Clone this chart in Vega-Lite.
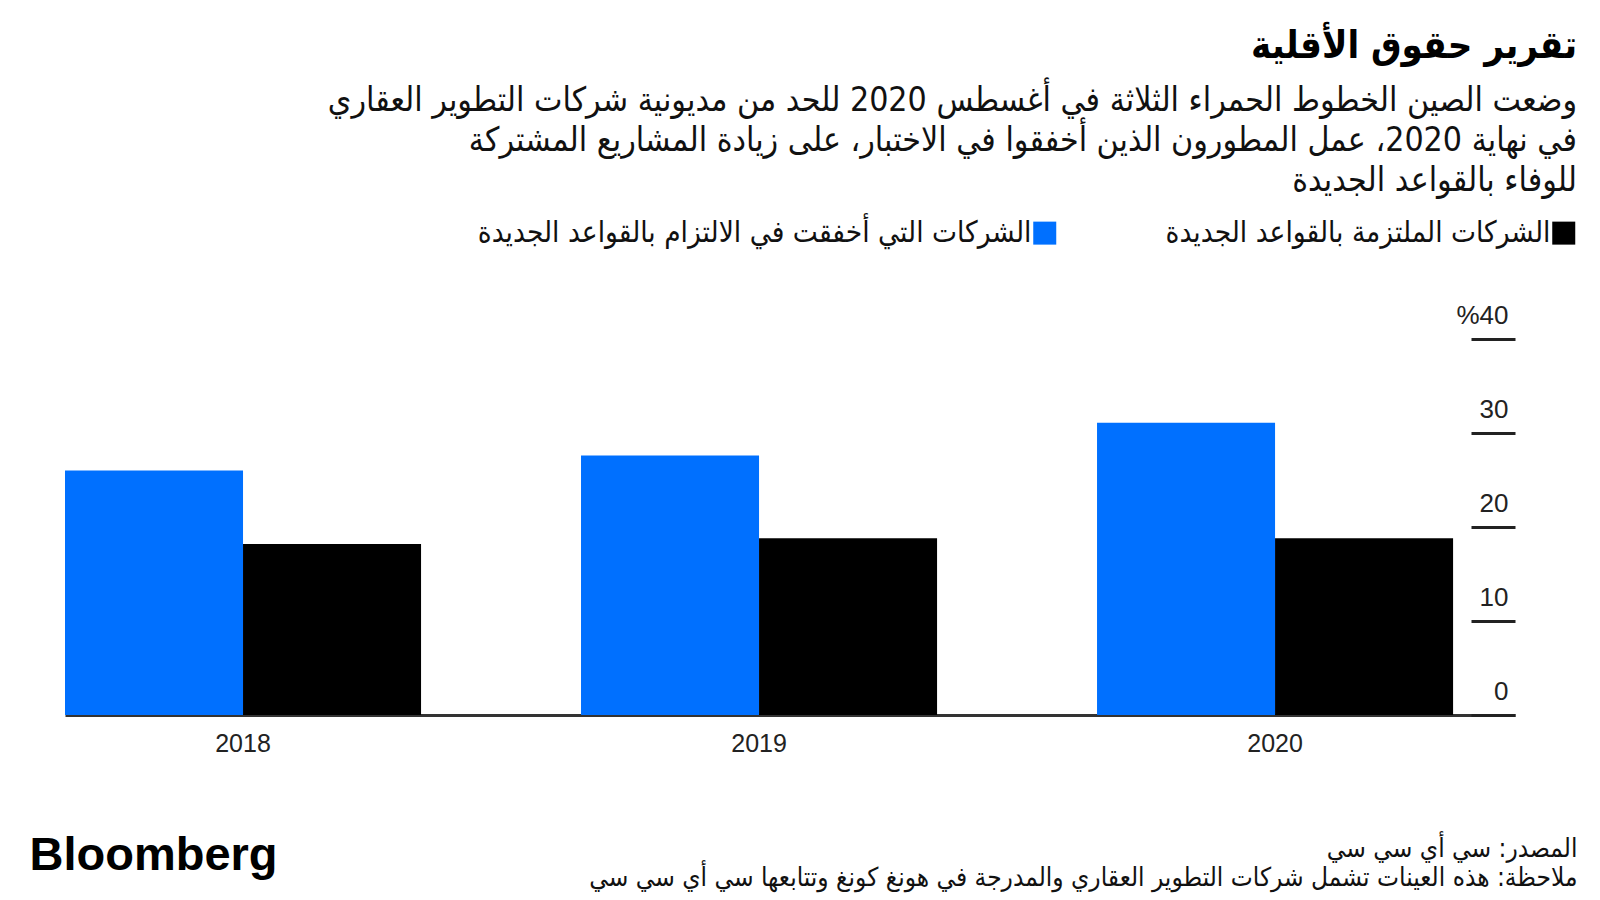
{
  "$schema": "https://vega.github.io/schema/vega-lite/v6.json",
  "autosize": {"type": "none"},
  "width": 1450,
  "height": 376,
  "padding": {"left": 65, "top": 339, "right": 85, "bottom": 185},
  "background": "white",
  "config": {"view": {"stroke": null}, "font": "DejaVu Sans Condensed"},
  "title": {
    "text": "تقرير حقوق الأقلية",
    "subtitle": [
      "وضعت الصين الخطوط الحمراء الثلاثة في أغسطس 2020 للحد من مديونية شركات التطوير العقاري",
      "في نهاية 2020، عمل المطورون الذين أخفقوا في الاختبار، على زيادة المشاريع المشتركة",
      "للوفاء بالقواعد الجديدة"
    ],
    "anchor": "end",
    "frame": "group",
    "align": "right",
    "dx": 62,
    "offset": 20,
    "font": "DejaVu Sans Condensed",
    "fontSize": 38,
    "fontWeight": "bold",
    "color": "#000000",
    "subtitleFont": "DejaVu Sans Condensed",
    "subtitleFontSize": 33.6,
    "subtitleColor": "#111111",
    "subtitleLineHeight": 40,
    "subtitlePadding": 18
  },
  "data": {
    "values": [
      {"year": "2018", "group": "الشركات التي أخفقت في الالتزام بالقواعد الجديدة", "value": 26.0},
      {"year": "2018", "group": "الشركات الملتزمة بالقواعد الجديدة", "value": 18.2},
      {"year": "2019", "group": "الشركات التي أخفقت في الالتزام بالقواعد الجديدة", "value": 27.6},
      {"year": "2019", "group": "الشركات الملتزمة بالقواعد الجديدة", "value": 18.8},
      {"year": "2020", "group": "الشركات التي أخفقت في الالتزام بالقواعد الجديدة", "value": 31.1},
      {"year": "2020", "group": "الشركات الملتزمة بالقواعد الجديدة", "value": 18.8}
    ]
  },
  "mark": {"type": "bar"},
  "encoding": {
    "x": {
      "field": "year",
      "type": "nominal",
      "scale": {"paddingInner": 0.31, "paddingOuter": 0.06, "align": 0},
      "axis": {
        "title": [
          "المصدر: سي أي سي سي",
          "ملاحظة: هذه العينات تشمل شركات التطوير العقاري والمدرجة في هونغ كونغ وتتابعها سي أي سي سي"
        ],
        "titleAnchor": "end",
        "titleAlign": "right",
        "titleX": 1512,
        "titleY": 141,
        "titleBaseline": "alphabetic",
        "titleFont": "DejaVu Sans Condensed",
        "titleFontSize": 26,
        "titleFontWeight": "normal",
        "titleLineHeight": 29,
        "titleColor": "#111111",
        "labelAngle": 0,
        "labelFont": "Liberation Sans",
        "labelFontSize": 25,
        "labelColor": "#222222",
        "labelPadding": 16,
        "ticks": false,
        "domainColor": "#333333",
        "domainWidth": 3,
        "grid": false
      }
    },
    "xOffset": {
      "field": "group",
      "sort": ["الشركات التي أخفقت في الالتزام بالقواعد الجديدة", "الشركات الملتزمة بالقواعد الجديدة"]
    },
    "y": {
      "field": "value",
      "type": "quantitative",
      "scale": {"domain": [0, 40]},
      "axis": {
        "orient": "right",
        "offset": -44,
        "tickSize": 44,
        "tickWidth": 3,
        "tickColor": "#222222",
        "domain": false,
        "grid": false,
        "values": [0, 10, 20, 30, 40],
        "labelExpr": "datum.value == 40 ? '%40' : datum.label",
        "labelAlign": "right",
        "labelBaseline": "alphabetic",
        "labelPadding": -7,
        "labelOffset": -16,
        "labelFont": "Liberation Sans",
        "labelFontSize": 26,
        "labelColor": "#222222",
        "labelFlush": false,
        "labelOverlap": false,
        "title": "Bloomberg",
        "titleAngle": 0,
        "titleAlign": "left",
        "titleBaseline": "alphabetic",
        "titleX": -1442,
        "titleY": 530,
        "titleFont": "Liberation Sans",
        "titleFontSize": 47,
        "titleFontWeight": "bold",
        "titleColor": "#000000"
      }
    },
    "color": {
      "field": "group",
      "type": "nominal",
      "scale": {
        "domain": ["الشركات التي أخفقت في الالتزام بالقواعد الجديدة", "الشركات الملتزمة بالقواعد الجديدة"],
        "range": ["#0070FF", "#000000"]
      },
      "legend": {
        "orient": "none",
        "legendX": 965,
        "legendY": -121,
        "direction": "horizontal",
        "title": null,
        "symbolType": "square",
        "symbolSize": 529,
        "symbolStrokeWidth": 0,
        "labelAlign": "right",
        "labelOffset": -28,
        "labelFont": "DejaVu Sans Condensed",
        "labelFontSize": 29.5,
        "labelColor": "#111111",
        "labelLimit": 0,
        "columnPadding": 108
      }
    }
  }
}
